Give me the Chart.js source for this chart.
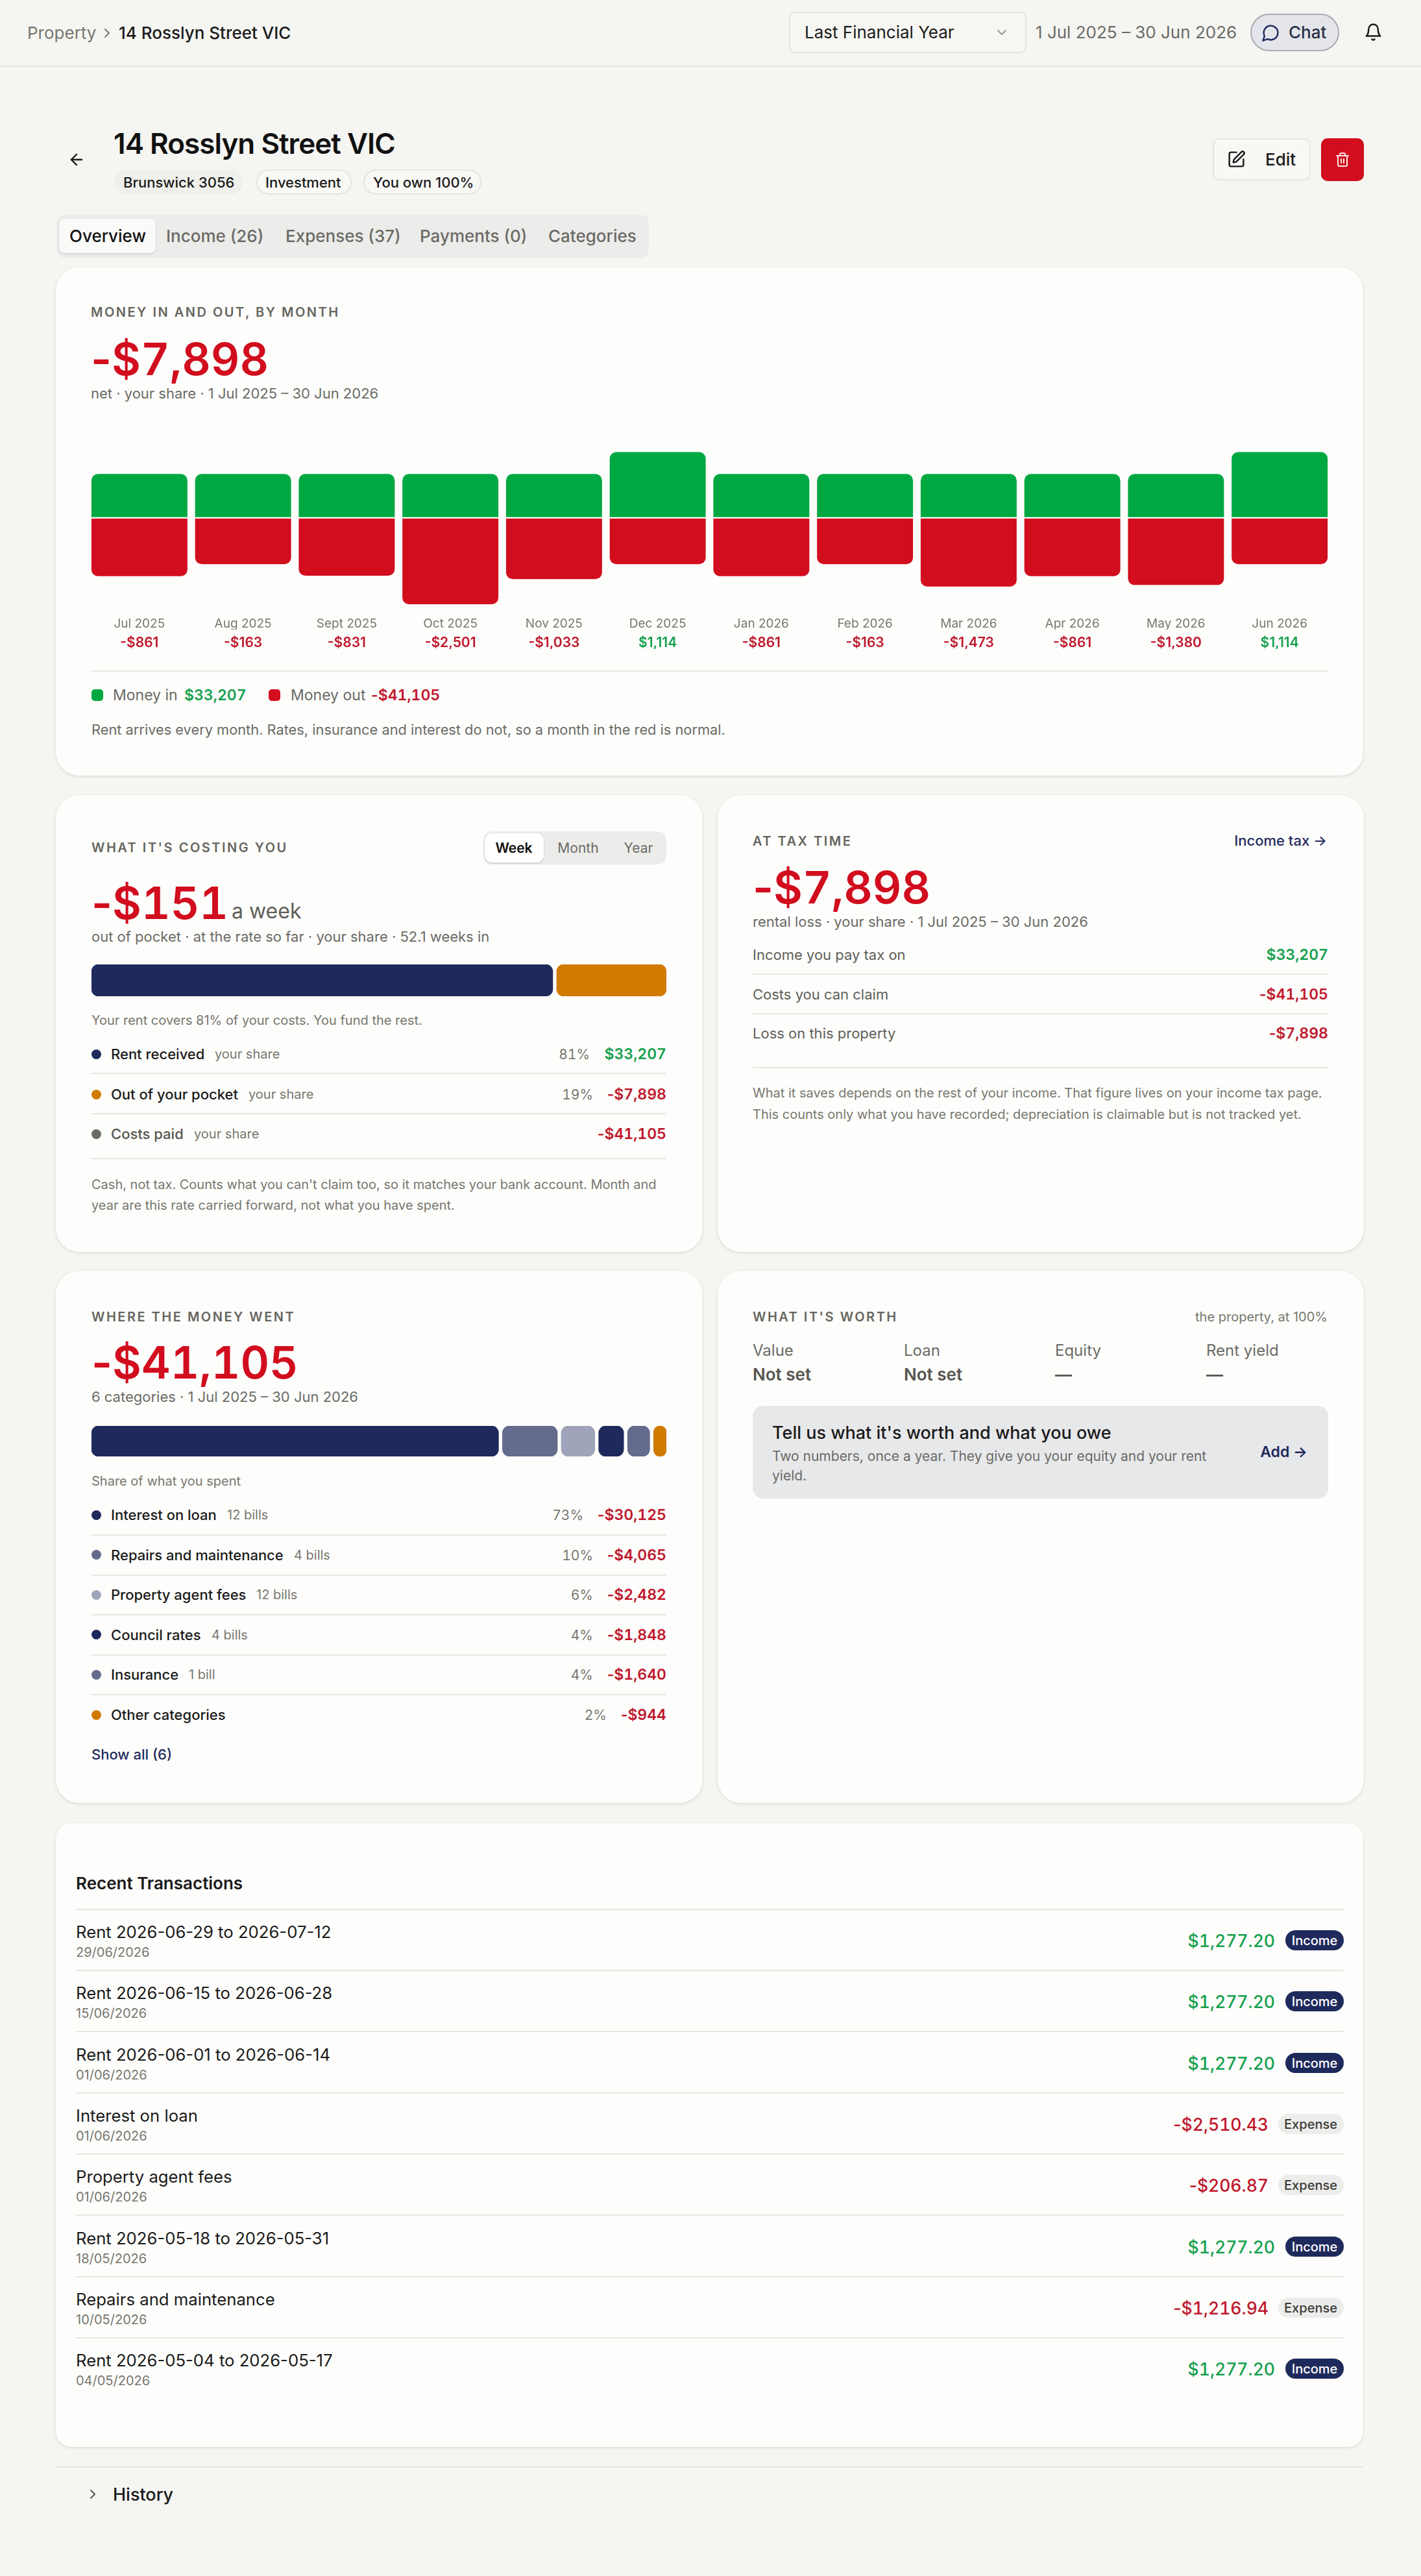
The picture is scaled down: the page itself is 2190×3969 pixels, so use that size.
<!DOCTYPE html>
<html lang="en">
<head>
<meta charset="utf-8">
<title>14 Rosslyn Street VIC</title>
<script src="https://cdn.jsdelivr.net/npm/chart.js@4"></script>
<style>
  html, body { margin: 0; padding: 0; background: #f5f5f2; }
  body { position: relative; width: 2190px; height: 3969px; overflow: hidden; font-family: Inter, sans-serif; color: #1a1a1a; }
  .t { position: absolute; white-space: nowrap; line-height: 1; transform: translateY(-50%); }
  .r { transform: translate(-100%, -50%); }
  .c { transform: translate(-50%, -50%); }
  .box { position: absolute; box-sizing: border-box; }
  .card { background: #fdfdfb; border-radius: 36px; box-shadow: 0 2px 5px rgba(0,0,0,.09), 0 0 0 1px rgba(0,0,0,.025); }
  .eyebrow { font-size: 20px; font-weight: 600; letter-spacing: .125em; color: #66665f; }
  .big { font-size: 69px; font-weight: 600; color: #d10d1e; font-variant-numeric: tabular-nums; }
  .sub { font-size: 22px; color: #6b6b66; }
  .amt { font-size: 23px; font-weight: 600; font-variant-numeric: tabular-nums; }
  .minus { font-variant-numeric: normal; }
  canvas { position: absolute; }
  svg { position: absolute; fill: none; stroke: currentColor; stroke-width: 2; stroke-linecap: round; stroke-linejoin: round; }
</style>
</head>
<body>
<script>
// monthly chart
const months = ['Jul 2025','Aug 2025','Sept 2025','Oct 2025','Nov 2025','Dec 2025','Jan 2026','Feb 2026','Mar 2026','Apr 2026','May 2026','Jun 2026'];
const moneyIn = [2554, 2554, 2554, 2554, 2554, 3832, 2554, 2554, 2554, 2554, 2554, 3832];
const moneyOut = [-3415, -2717, -3385, -5055, -3587, -2718, -3415, -2717, -4027, -3415, -3934, -2718];
const netLabels = ['-$861','-$163','-$831','-$2,501','-$1,033','$1,114','-$861','-$163','-$1,473','-$861','-$1,380','$1,114'];

// what it's costing you
const costNames = ['Rent received','Out of your pocket','Costs paid'];
const costValues = [33207, 7898];
const costPct = ['81%','19%',''];
const costAmounts = ['$33,207','-$7,898','-$41,105'];

// where the money went
const catNames = ['Interest on loan','Repairs and maintenance','Property agent fees','Council rates','Insurance','Other categories'];
const catBills = ['12 bills','4 bills','12 bills','4 bills','1 bill',''];
const catValues = [30125, 4065, 2482, 1848, 1640, 944];
const catPct = ['73%','10%','6%','4%','4%','2%'];
const catAmounts = ['-$30,125','-$4,065','-$2,482','-$1,848','-$1,640','-$944'];

// at tax time
const taxNames = ['Income you pay tax on','Costs you can claim','Loss on this property'];
const taxAmounts = ['$33,207','-$41,105','-$7,898'];

// what it's worth
const worthNames = ['Value','Loan','Equity','Rent yield'];
const worthValues = ['Not set','Not set','—','—'];

// recent transactions
const txNames = ['Rent 2026-06-29 to 2026-07-12','Rent 2026-06-15 to 2026-06-28','Rent 2026-06-01 to 2026-06-14','Interest on loan','Property agent fees','Rent 2026-05-18 to 2026-05-31','Repairs and maintenance','Rent 2026-05-04 to 2026-05-17'];
const txDates = ['29/06/2026','15/06/2026','01/06/2026','01/06/2026','01/06/2026','18/05/2026','10/05/2026','04/05/2026'];
const txAmounts = ['$1,277.20','$1,277.20','$1,277.20','-$2,510.43','-$206.87','$1,277.20','-$1,216.94','$1,277.20'];

const RED = '#d10d1e', TEXT_RED = '#c0172c', GREEN = '#00a842', TEXT_GREEN = '#15a04e';
const NAVY = '#1f2a5c', SLATE = '#636c8c', LAV = '#a0a4ba', ORANGE = '#d07a00', CARD = '#fdfdfb', GREY = '#6b6b66';

function text(x, y, str, css, cls) {
  const el = document.createElement('div');
  el.className = 't ' + (cls || '');
  el.style.cssText = `left:${x}px;top:${y}px;${css || ''}`;
  // the tabular hyphen is too wide, only the figures are tabular
  if (str.charAt(0) === '-') {
    const m = document.createElement('span');
    m.className = 'minus';
    m.textContent = '-';
    el.appendChild(m);
    el.appendChild(document.createTextNode(str.slice(1)));
  } else {
    el.textContent = str;
  }
  document.body.appendChild(el);
  return el;
}
function box(x, y, w, h, css, cls) {
  const el = document.createElement('div');
  el.className = 'box ' + (cls || '');
  el.style.cssText = `left:${x}px;top:${y}px;width:${w}px;height:${h}px;${css || ''}`;
  document.body.appendChild(el);
  return el;
}
function line(x, y, w) { box(x, y, w, 2, 'background:#e6e6e3'); }
function dot(x, y, color) { box(x, y - 7.5, 15, 15, `background:${color};border-radius:50%`); }
function icon(x, y, size, paths, color) {
  document.body.insertAdjacentHTML('beforeend',
    `<svg viewBox="0 0 24 24" style="left:${x}px;top:${y}px;width:${size}px;height:${size}px;color:${color}">${paths.map(p => `<path d="${p}"/>`).join('')}</svg>`);
}
function canvas(x, y, w, h) {
  const c = document.createElement('canvas');
  c.width = w; c.height = h;
  c.style.cssText = `left:${x}px;top:${y}px;width:${w}px;height:${h}px`;
  document.body.appendChild(c);
  return c;
}

// header
box(0, 101, 2190, 2, 'background:#e4e4e0');
text(42, 51, 'Property', 'font-size:26px;color:#77776f');
icon(153, 39, 24, ['m9 18 6-6-6-6'], '#77776f');
text(183, 51, '14 Rosslyn Street VIC', 'font-size:26px;font-weight:500');
box(1216, 18, 366, 64, 'background:#f6f6f3;border:2px solid #e4e4e0;border-radius:10px');
text(1240, 50, 'Last Financial Year', 'font-size:26px');
icon(1532, 38, 24, ['m6 9 6 6 6-6'], '#99998f');
text(1596, 50, '1 Jul 2025 – 30 Jun 2026', 'font-size:26px;color:#6b6b66');
box(1927, 21, 137, 58, 'background:#e3e5ea;border:2px solid #a9acb2;border-radius:29px');
icon(1944, 36, 29, ['M7.9 20A9 9 0 1 0 4 16.1L2 22Z'], NAVY);
text(1986, 50, 'Chat', 'font-size:26px;font-weight:500;color:#2b2f45');
icon(2102, 35, 29, ['M6 8a6 6 0 0 1 12 0c0 7 3 9 3 9H3s3-2 3-9', 'M10.3 21a1.94 1.94 0 0 0 3.4 0'], '#1a1a1a');

// title block
icon(104, 232, 28, ['m12 19-7-7 7-7', 'M19 12H5'], '#1a1a1a');
text(175, 221, '14 Rosslyn Street VIC', 'font-size:44px;font-weight:600;color:#111;letter-spacing:-.022em');
box(177, 261, 197, 39, 'background:#efefec;border-radius:20px');
box(395, 261, 147, 39, 'border:2px solid #e4e4e0;border-radius:20px;background:#f8f8f5');
box(560, 261, 182, 39, 'border:2px solid #e4e4e0;border-radius:20px;background:#f8f8f5');
text(190, 281, 'Brunswick 3056', 'font-size:22px;font-weight:500');
text(409, 281, 'Investment', 'font-size:22px;font-weight:500');
text(575, 281, 'You own 100%', 'font-size:22px;font-weight:500');
box(1869, 213, 151, 65, 'background:#f8f8f5;border:2px solid #e6e6e3;border-radius:10px');
icon(1891, 231, 29, ['M12 3H5a2 2 0 0 0-2 2v14a2 2 0 0 0 2 2h14a2 2 0 0 0 2-2v-7', 'M18.375 2.625a1 1 0 0 1 3 3l-9.013 9.014a2 2 0 0 1-.853.505l-2.873.84a.5.5 0 0 1-.62-.62l.84-2.873a2 2 0 0 1 .506-.852z'], '#1a1a1a');
text(1950, 246, 'Edit', 'font-size:26px;font-weight:500');
box(2036, 213, 66, 66, `background:${RED};border-radius:10px`);
icon(2057, 234, 24, ['M3 6h18', 'M19 6v14c0 1-1 2-2 2H7c-1 0-2-1-2-2V6', 'M8 6V4c0-1 1-2 2-2h4c1 0 2 1 2 2v2', 'M10 11v6', 'M14 11v6'], '#fdeaea');

// tabs
box(87, 331, 913, 66, 'background:#ececea;border-radius:12px');
box(91, 337, 149, 53, 'background:#fafaf8;border-radius:9px;box-shadow:0 1px 3px rgba(0,0,0,.16)');
[['Overview', 107, '#111'], ['Income (26)', 256, GREY], ['Expenses (37)', 440, GREY], ['Payments (0)', 647, GREY], ['Categories', 845, GREY]].forEach(a => {
  text(a[1], 364, a[0], `font-size:26px;font-weight:500;color:${a[2]}`);
});

// cards
box(86, 412, 2015, 783, '', 'card');
box(86, 1225, 997, 704, '', 'card');
box(1106, 1225, 996, 704, '', 'card');
box(86, 1958, 997, 820, '', 'card');
box(1106, 1958, 996, 820, '', 'card');
box(86, 2809, 2015, 961, 'border-radius:24px', 'card');

// money in and out
text(140, 481, 'MONEY IN AND OUT, BY MONTH', '', 'eyebrow');
text(140, 553, '-$7,898', '', 'big');
text(140, 606, 'net · your share · 1 Jul 2025 – 30 Jun 2026', '', 'sub');

new Chart(canvas(135, 679, 1917, 321), {
  type: 'bar',
  data: {
    labels: months,
    datasets: [
      { label: 'Money in', data: moneyIn, backgroundColor: GREEN, borderRadius: { topLeft: 10, topRight: 10 }, borderSkipped: false },
      { label: 'Money out', data: moneyOut, backgroundColor: RED, borderRadius: { bottomLeft: 10, bottomRight: 10 }, borderSkipped: false }
    ]
  },
  options: {
    responsive: false,
    animation: false,
    devicePixelRatio: 1,
    layout: { padding: 0 },
    plugins: { legend: { display: false }, tooltip: { enabled: false } },
    datasets: { bar: { categoryPercentage: 1, barPercentage: 0.926 } },
    scales: {
      x: {
        stacked: true,
        weight: 0,
        grid: { display: false },
        border: { display: false },
        ticks: { maxRotation: 0, autoSkip: false, color: '#77776f', padding: 2, font: { family: 'Inter', size: 19 } },
        afterFit: s => { s.height = 30; }
      },
      x2: {
        type: 'category',
        labels: netLabels,
        offset: true,
        position: 'bottom',
        weight: 1,
        grid: { display: false },
        border: { display: false },
        ticks: {
          maxRotation: 0, autoSkip: false, padding: 0,
          color: c => netLabels[c.index].startsWith('-') ? TEXT_RED : TEXT_GREEN,
          font: { family: 'Inter', size: 21, weight: '600' }
        },
        afterFit: s => { s.height = 30; }
      },
      y: {
        stacked: true,
        min: -5400,
        max: 4500,
        ticks: { display: false, stepSize: 900 },
        border: { display: false },
        grid: { z: 1, drawTicks: false, lineWidth: 2, color: c => c.tick.value === 0 ? CARD : 'transparent' },
        afterFit: s => { s.width = 0; }
      }
    }
  }
});

line(141, 1033, 1905);
box(141, 1062, 18, 18, `background:${GREEN};border-radius:5px`);
text(174, 1071, 'Money in', 'font-size:23px;color:#6b6b66');
text(284, 1071, '$33,207', `color:${TEXT_GREEN}`, 'amt');
box(414, 1062, 18, 18, `background:${RED};border-radius:5px`);
text(448, 1071, 'Money out', 'font-size:23px;color:#6b6b66');
text(572, 1071, '-$41,105', `color:${TEXT_RED}`, 'amt');
text(141, 1125, 'Rent arrives every month. Rates, insurance and interest do not, so a month in the red is normal.', 'font-size:21.8px;color:#6b6b66');

// split bars: spacer datasets keep the gaps between segments
function splitBar(parent, values, colors, gap) {
  const radius = { topLeft: 11, topRight: 11, bottomLeft: 11, bottomRight: 11 };
  const datasets = [];
  values.forEach((v, i) => {
    datasets.push({ data: [v], backgroundColor: colors[i], borderRadius: radius, borderSkipped: false });
    if (i < values.length - 1) datasets.push({ data: [gap], backgroundColor: 'transparent', borderWidth: 0 });
  });
  const total = values.reduce((a, b) => a + b, 0) + gap * (values.length - 1);
  new Chart(parent, {
    type: 'bar',
    data: { labels: [''], datasets },
    options: {
      indexAxis: 'y',
      responsive: false,
      animation: false,
      devicePixelRatio: 1,
      layout: { padding: 0 },
      plugins: { legend: { display: false }, tooltip: { enabled: false } },
      datasets: { bar: { categoryPercentage: 1, barPercentage: 1 } },
      scales: {
        x: { stacked: true, display: false, min: 0, max: total },
        y: { stacked: true, display: false }
      }
    }
  });
}

// what it's costing you
text(141, 1306, "WHAT IT'S COSTING YOU", '', 'eyebrow');
box(745, 1281, 282, 51, 'background:#ececea;border-radius:14px');
box(747, 1284, 91, 45, 'background:#fff;border-radius:11px;box-shadow:0 1px 3px rgba(0,0,0,.18)');
text(792, 1306, 'Week', 'font-size:21px;font-weight:600;color:#111', 'c');
text(891, 1306, 'Month', 'font-size:21px;color:#6b6b66', 'c');
text(984, 1306, 'Year', 'font-size:21px;color:#6b6b66', 'c');
text(141, 1391, '-$151', '', 'big');
text(357, 1404, 'a week', 'font-size:32px;color:#5f5f5a');
text(141, 1443, 'out of pocket · at the rate so far · your share · 52.1 weeks in', '', 'sub');
splitBar(canvas(141, 1486, 886, 49), costValues, [NAVY, ORANGE], 280);
text(141, 1572, 'Your rent covers 81% of your costs. You fund the rest.', 'font-size:20px;color:#77776f');
const costY = [1624, 1686, 1747];
const costDots = [NAVY, ORANGE, '#6a6a66'];
costNames.forEach((name, i) => {
  dot(141, costY[i], costDots[i]);
  const el = text(171, costY[i], name, `font-size:22px;font-weight:500;color:${i === 2 ? '#55554f' : '#1a1a1a'}`);
  text(171 + el.offsetWidth + 16, costY[i], 'your share', 'font-size:20px;color:#77776f');
  const amt = text(1027, costY[i], costAmounts[i], `color:${i === 0 ? TEXT_GREEN : TEXT_RED}`, 'amt r');
  if (costPct[i]) text(1027 - amt.offsetWidth - 22, costY[i], costPct[i], 'font-size:21px;color:#77776f;font-variant-numeric:tabular-nums', 'r');
});
line(141, 1653, 886); line(141, 1715, 886); line(141, 1784, 886);
text(141, 1825, "Cash, not tax. Counts what you can't claim too, so it matches your bank account. Month and", 'font-size:20px;color:#77776f');
text(141, 1857, 'year are this rate carried forward, not what you have spent.', 'font-size:20px;color:#77776f');

// at tax time
text(1160, 1296, 'AT TAX TIME', '', 'eyebrow');
text(2045, 1295, 'Income tax →', `font-size:22px;font-weight:500;color:${NAVY}`, 'r');
text(1160, 1367, '-$7,898', '', 'big');
text(1160, 1420, 'rental loss · your share · 1 Jul 2025 – 30 Jun 2026', '', 'sub');
const taxY = [1471, 1532, 1592];
taxNames.forEach((name, i) => {
  text(1160, taxY[i], name, 'font-size:22px;color:#5f5f5a');
  text(2047, taxY[i], taxAmounts[i], `color:${i === 0 ? TEXT_GREEN : TEXT_RED}`, 'amt r');
});
line(1160, 1500, 887); line(1160, 1561, 887); line(1160, 1644, 887);
text(1160, 1684, 'What it saves depends on the rest of your income. That figure lives on your income tax page.', 'font-size:20px;color:#77776f');
text(1160, 1717, 'This counts only what you have recorded; depreciation is claimable but is not tracked yet.', 'font-size:20px;color:#77776f');

// where the money went
text(141, 2029, 'WHERE THE MONEY WENT', '', 'eyebrow');
text(141, 2099, '-$41,105', '', 'big');
text(141, 2152, '6 categories · 1 Jul 2025 – 30 Jun 2026', '', 'sub');
const catColors = [NAVY, SLATE, LAV, NAVY, SLATE, ORANGE];
splitBar(canvas(141, 2197, 886, 47), catValues, catColors, 288);
text(141, 2282, 'Share of what you spent', 'font-size:20px;color:#77776f');
catNames.forEach((name, i) => {
  const y = 2334 + i * 61.6;
  dot(141, y, catColors[i]);
  const el = text(171, y, name, 'font-size:22px;font-weight:500');
  if (catBills[i]) text(171 + el.offsetWidth + 16, y, catBills[i], 'font-size:20px;color:#77776f');
  const amt = text(1027, y, catAmounts[i], `color:${TEXT_RED}`, 'amt r');
  text(1027 - amt.offsetWidth - 22, y, catPct[i], 'font-size:21px;color:#77776f;font-variant-numeric:tabular-nums', 'r');
  if (i < catNames.length - 1) line(141, y + 30, 886);
});
text(141, 2703, 'Show all (6)', `font-size:22px;font-weight:500;color:${NAVY}`);

// what it's worth
text(1160, 2029, "WHAT IT'S WORTH", '', 'eyebrow');
text(2046, 2029, 'the property, at 100%', 'font-size:20px;color:#77776f', 'r');
const worthX = [1160, 1393, 1626, 1859];
worthNames.forEach((name, i) => {
  text(worthX[i], 2081, name, 'font-size:24px;color:#6b6b66');
  text(worthX[i], 2118, worthValues[i], 'font-size:26px;font-weight:600;color:#55554f');
});
box(1160, 2166, 887, 143, 'background:#e7e8ea;border-radius:16px');
text(1190, 2207, "Tell us what it's worth and what you owe", 'font-size:27px;font-weight:500');
text(1190, 2243, 'Two numbers, once a year. They give you your equity and your rent', 'font-size:21px;color:#6b6b66');
text(1190, 2273, 'yield.', 'font-size:21px;color:#6b6b66');
text(2015, 2237, 'Add →', `font-size:23px;font-weight:600;color:${NAVY}`, 'r');

// recent transactions
text(117, 2902, 'Recent Transactions', 'font-size:26px;font-weight:600');
line(117, 2941, 1954);
txNames.forEach((name, i) => {
  const top = 2942 + i * 94.3;
  text(117, top + 35, name, 'font-size:25.7px;color:#1a1a1a');
  text(117, top + 66, txDates[i], 'font-size:20px;color:#77776f');
  const income = txAmounts[i].charAt(0) !== '-';
  if (income) {
    box(1981, top + 32, 90, 31, `background:${NAVY};border-radius:16px`);
    text(2026, top + 48, 'Income', 'font-size:20px;font-weight:500;color:#fff', 'c');
  } else {
    box(1970, top + 32, 101, 31, 'background:#ececea;border-radius:16px');
    text(2020, top + 48, 'Expense', 'font-size:20px;font-weight:500;color:#3a3a36', 'c');
  }
  text(income ? 1965 : 1955, top + 48, txAmounts[i], `font-size:26.5px;font-weight:500;font-variant-numeric:tabular-nums;color:${income ? TEXT_GREEN : TEXT_RED}`, 'r');
  if (i < txNames.length - 1) line(117, top + 93, 1954);
});

// history
line(86, 3800, 2015);
icon(131, 3831, 24, ['m9 18 6-6-6-6'], '#55554f');
text(174, 3843, 'History', 'font-size:27px;font-weight:500');
</script>
</body>
</html>
